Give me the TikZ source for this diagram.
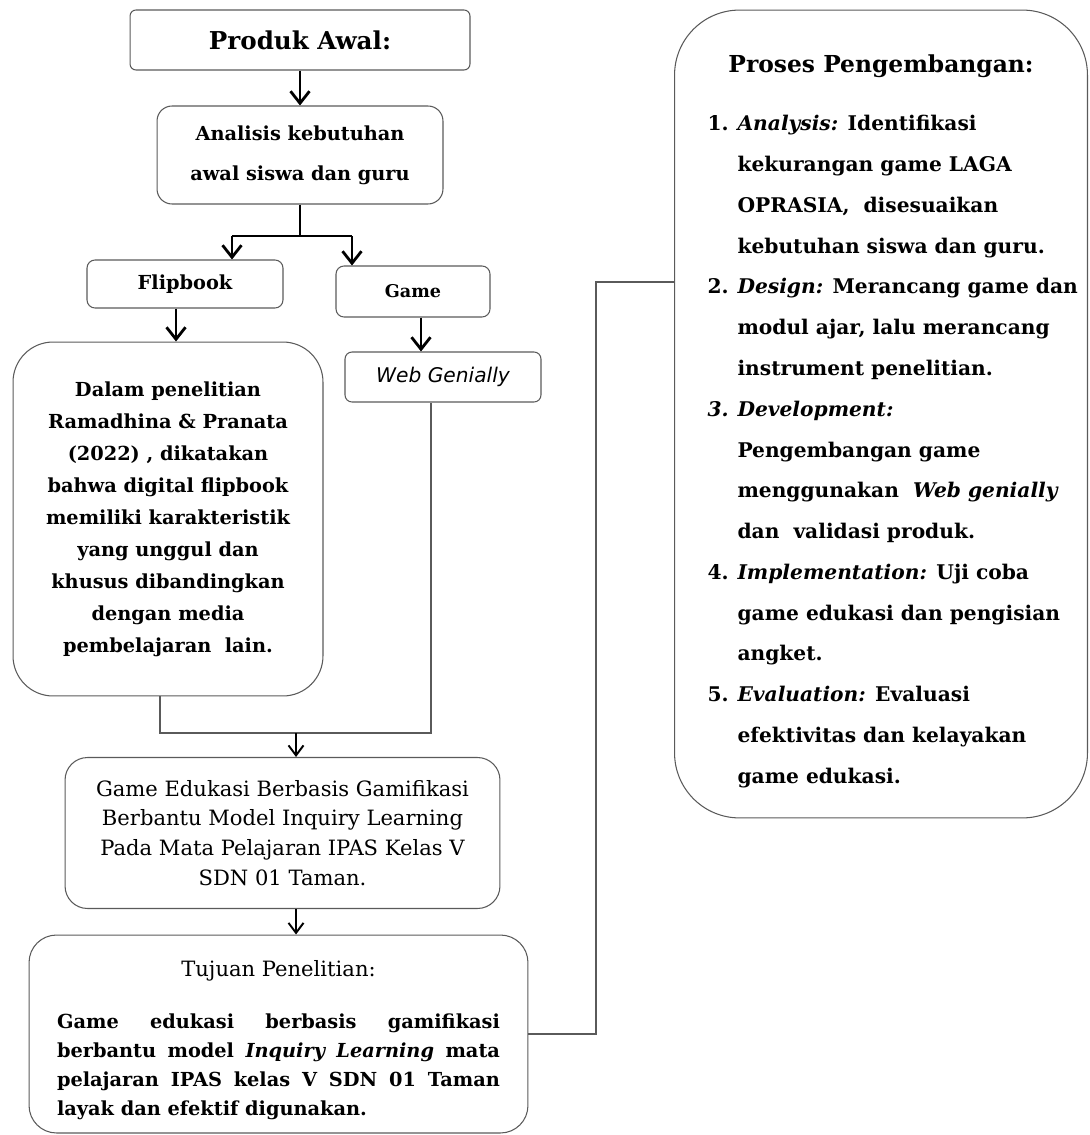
\documentclass[tikz,border=0pt]{standalone}
\usepackage{fontspec}
\setmainfont{DejaVu Serif}
\newfontfamily\webfont{DejaVu Sans}
\usetikzlibrary{arrows.meta, positioning, calc}
\definecolor{garisAbu}{HTML}{5A5A5A}

\begin{document}
\begin{tikzpicture}[x=0.02cm, y=-0.02cm,
    kotak/.style={draw=garisAbu, line width=0.6pt, rounded corners=#1,
                  align=center, inner sep=0pt, text=black},
    kotak/.default=0.14cm,
    isi/.style={font=\fontsize{11}{18.2}\selectfont\bfseries},
    panah/.style={-{Straight Barb[length=2.4mm, width=3.8mm]}, line width=1.6pt},
    panahkecil/.style={-{Straight Barb[length=2mm, width=3mm]}, line width=1.1pt},
    garis/.style={draw=garisAbu, line width=0.8pt}]
    \useasboundingbox (0,0) rectangle (1089,1135);
    % kolom kiri
    \node[kotak=0.12cm, minimum width=6.8cm, minimum height=1.2cm,
          font=\fontsize{14}{17}\selectfont\bfseries] (produk) at (300,40) {Produk Awal:};
    \node[kotak=0.3cm, minimum width=5.72cm, minimum height=1.96cm,
          font=\fontsize{11}{22.8}\selectfont\bfseries] (analisis) at (300,155)
          {Analisis kebutuhan\\awal siswa dan guru};
    \node[kotak=0.16cm, minimum width=3.92cm, minimum height=0.96cm,
          font=\fontsize{11}{14}\selectfont\bfseries] (flipbook) at (185,284) {Flipbook};
    \node[kotak=0.16cm, minimum width=3.08cm, minimum height=1.02cm,
          font=\fontsize{10}{12}\selectfont\bfseries] (game) at (413,291.5) {Game};
    \node[kotak=0.8cm, minimum width=6.2cm, minimum height=7.08cm, isi] (dalam) at (168,519)
          {Dalam penelitian\\Ramadhina \& Pranata\\(2022) , dikatakan\\bahwa digital flipbook\\
           memiliki karakteristik\\yang unggul dan\\khusus dibandingkan\\dengan media\\
           pembelajaran~~lain.};
    \node[kotak=0.14cm, minimum width=3.92cm, minimum height=1cm,
          font=\fontsize{11.5}{13}\selectfont\webfont\itshape] (web) at (443,377) {Web Genially};
    \node[kotak=0.45cm, minimum width=8.7cm, minimum height=3.02cm,
          font=\fontsize{12}{17}\selectfont] (gameedu) at (282.5,833)
          {Game Edukasi Berbasis Gamifikasi\\Berbantu Model Inquiry Learning\\
           Pada Mata Pelajaran IPAS Kelas V\\SDN 01 Taman.};
    \node[kotak=0.55cm, minimum width=9.98cm, minimum height=3.96cm] (tujuan) at (278.5,1034)
          {\parbox{8.86cm}{\vspace*{0.24cm}
           {\centering\fontsize{12}{14}\selectfont Tujuan Penelitian:\par}
           \vspace{0.45cm}
           \fontsize{11}{16.5}\selectfont\bfseries
           Game edukasi berbasis gamifikasi\linebreak
           berbantu model \textit{Inquiry Learning} mata\linebreak
           pelajaran IPAS kelas V SDN 01 Taman\linebreak
           layak dan efektif digunakan.}};
    % kolom kanan
    \node[kotak=1.3cm, minimum width=8.26cm, minimum height=16.16cm] (proses) at (881,414)
          {\parbox{6.94cm}{\vspace*{0.44cm}
           {\centering\fontsize{13.3}{16}\selectfont\bfseries Proses Pengembangan:\par}
           \vspace{0.46cm}
           \fontsize{11.5}{23.2}\selectfont\bfseries
           \begin{tabular}{@{}p{0.6cm}@{}l@{}}
           1. & \textit{Analysis:} Identifikasi\\
              & kekurangan game LAGA\\
              & OPRASIA,~ disesuaikan\\
              & kebutuhan siswa dan guru.\\
           2. & \textit{Design:} Merancang game dan\\
              & modul ajar, lalu merancang\\
              & instrument penelitian.\\
           \textit{3.} & \textit{Development:}\\
              & Pengembangan game\\
              & menggunakan~ \textit{Web genially}\\
              & dan~ validasi produk.\\
           4. & \textit{Implementation:} Uji coba\\
              & game edukasi dan pengisian\\
              & angket.\\
           5. & \textit{Evaluation:} Evaluasi\\
              & efektivitas dan kelayakan\\
              & game edukasi.
           \end{tabular}}};
    % titik bantu
    \coordinate (cabang) at (300,236);
    \coordinate (ki) at (232,236);
    \coordinate (ka) at (352,236);
    \coordinate (gabung) at (296,733);
    \coordinate (belok) at (596,282);
    % panah
    \draw[panah] (produk) -- (analisis);
    \draw[line width=1.6pt] (analisis) -- (cabang);
    \draw[line width=1.6pt] (ki) -- (ka);
    \draw[panah] (ki) -- (ki |- flipbook.north);
    \draw[panah] (ka) -- (ka |- game.north);
    \draw[panah] ([xshift=-0.18cm]flipbook.south) -- ([xshift=-0.18cm]flipbook.south |- dalam.north);
    \draw[panah] ([xshift=0.16cm]game.south) -- ([xshift=0.16cm]game.south |- web.north);
    \draw[garis] ([xshift=-0.16cm]dalam.south) |- (gabung) -| ([xshift=-0.24cm]web.south);
    \draw[panahkecil] (gabung) -- (gabung |- gameedu.north);
    \draw[panahkecil] (gameedu.south -| gabung) -- (gabung |- tujuan.north);
    \draw[garis, line width=1.2pt] (tujuan.east) -| (belok) -- (belok -| proses.west);
\end{tikzpicture}
\end{document}
